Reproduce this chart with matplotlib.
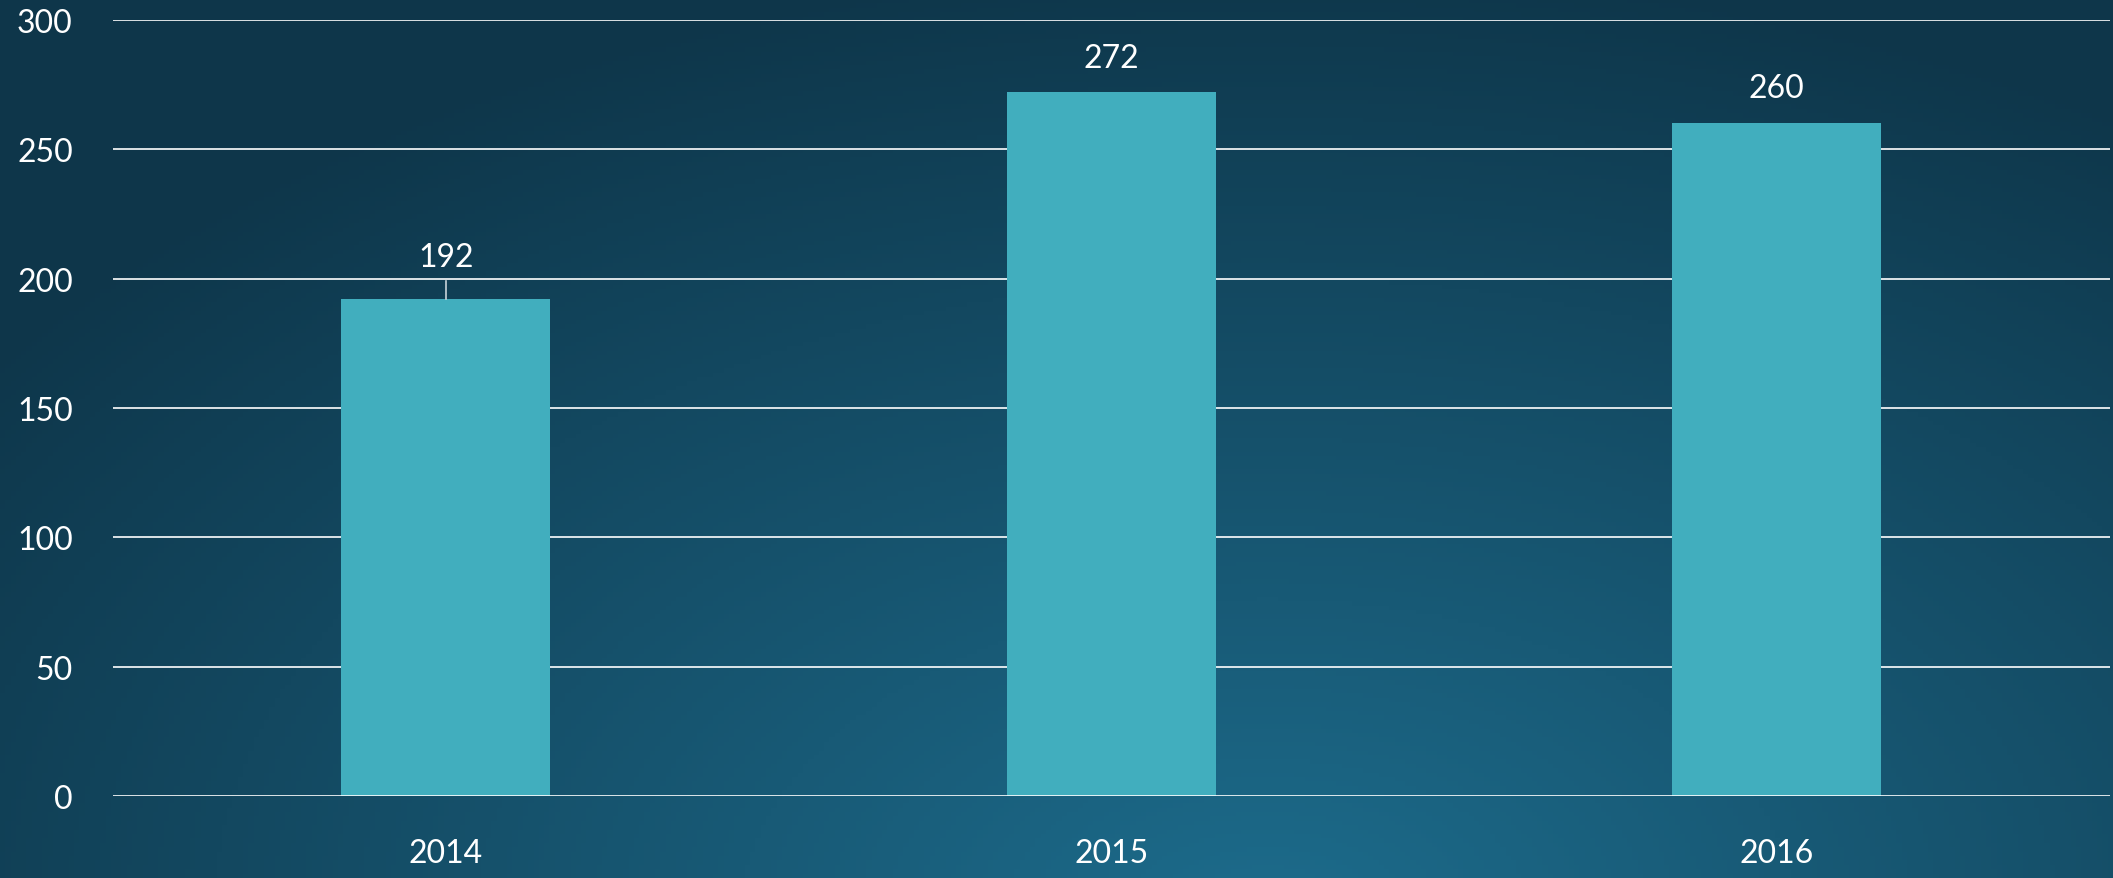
import matplotlib
matplotlib.use("Agg")
import matplotlib.pyplot as plt
import numpy as np

# данные
years = ["2014", "2015", "2016"]
values = [192, 272, 260]
y_ticks = [0, 50, 100, 150, 200, 250, 300]

plt.rcParams["font.family"] = ["Lato", "DejaVu Sans"]

fig = plt.figure(figsize=(21.13, 8.79), dpi=100)

# фон: радиальный градиент, светлее снизу по центру
bg = fig.add_axes([0, 0, 1, 1])
gx, gy = np.meshgrid(np.linspace(0, 1, 400), np.linspace(0, 1, 200))
r = np.sqrt(((gx - 0.6) / 0.75) ** 2 + ((gy - 1.05) / 1.1) ** 2)
r = np.clip(r, 0, 1)
c_in = np.array([0x1d, 0x6c, 0x8c]) / 255
c_out = np.array([0x0e, 0x36, 0x4a]) / 255
img = c_in[None, None, :] * (1 - r[..., None]) + c_out[None, None, :] * r[..., None]
bg.imshow(img, aspect="auto", extent=[0, 1, 0, 1], origin="upper")
bg.axis("off")

ax = fig.add_axes([0.0535, 0.0933, 0.9449, 0.8828])
ax.patch.set_alpha(0)
x = np.arange(len(years))
ax.bar(x, values, width=0.314, color="#41aebe", zorder=2)
ax.set_xlim(-0.5, 2.5)
ax.set_ylim(0, 300)
ax.set_yticks(y_ticks)
ax.set_xticks(x, years)
for t in y_ticks[1:]:
    ax.axhline(t, color="white", lw=1.2, zorder=1)
ax.axhline(0, color="white", lw=1.2, zorder=3)
for s in ax.spines.values():
    s.set_visible(False)
ax.tick_params(axis="both", length=0, colors="white", labelsize=23)
ax.tick_params(axis="y", pad=29)
ax.tick_params(axis="x", pad=30)

# подписи значений
offsets = [16.5, 13.5, 13.8]
for xi, v, off in zip(x, values, offsets):
    ax.text(xi, v + off, str(v), color="white", fontsize=23, ha="center", va="center", zorder=4)
# выноска для 2014
ax.plot([x[0], x[0]], [values[0], values[0] + 7], color="#c8d4da", lw=1.2, zorder=4)

fig.savefig("out.png", dpi=100)
